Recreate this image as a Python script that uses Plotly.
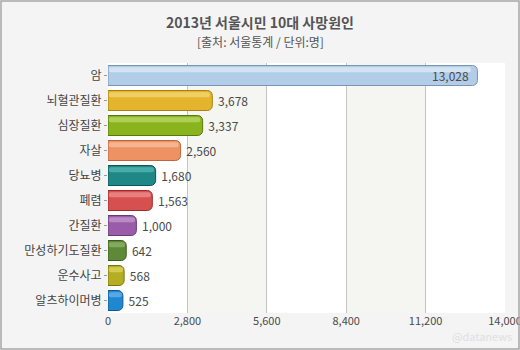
import plotly.graph_objects as go

categories = ["암", "뇌혈관질환", "심장질환", "자살", "당뇨병", "폐렴", "간질환", "만성하기도질환", "운수사고", "알츠하이머병"]
values = [13028, 3678, 3337, 2560, 1680, 1563, 1000, 642, 568, 525]
tick_vals = [0, 2800, 5600, 8400, 11200, 14000]
tick_text = ["0", "2,800", "5,600", "8,400", "11,200", "14,000"]

fill_colors = ["#b2cde8", "#e4b42c", "#8ab41e", "#ee9264", "#1f8886", "#d65050", "#9a5ca8", "#5e8a38", "#b6ae22", "#2088cf"]
line_colors = ["#7896b4", "#a8820e", "#587810", "#bc6640", "#0a5856", "#a02a2a", "#683a78", "#3a5a1e", "#7a7410", "#10589a"]
hi_colors = ["#dde9f6", "#f4d878", "#b8d868", "#f8c0a0", "#5ab8b6", "#ee9090", "#c49ad0", "#90b468", "#dcd660", "#68b4ec"]

FONT = "Noto Sans CJK KR, sans-serif"
INSIDE_LIMIT = 10000
outside_text = [f" {v:,}" if v < INSIDE_LIMIT else "" for v in values]

fig = go.Figure()
fig.add_trace(go.Bar(
    y=categories, x=values, orientation="h",
    marker=dict(color=fill_colors, line=dict(color=line_colors, width=1), cornerradius=5),
    width=0.8,
    text=outside_text, textposition="outside",
    textfont=dict(family=FONT, size=12, color="#4a4a4a"),
    cliponaxis=False,
    hoverinfo="skip",
))
# glossy highlight strip
fig.add_trace(go.Bar(
    y=categories, x=[v * 0.985 - 60 for v in values], orientation="h",
    marker=dict(color=hi_colors, line=dict(width=0), cornerradius=3, opacity=0.75),
    width=0.2, offset=-0.33, base=30,
    hoverinfo="skip",
))

shapes = []
for i in range(len(tick_vals) - 1):
    if i % 2 == 1:
        shapes.append(dict(type="rect", xref="x", yref="paper",
                           x0=tick_vals[i], x1=tick_vals[i + 1], y0=0, y1=1,
                           fillcolor="#f5f5f2", line=dict(width=0), layer="below"))
L, R, T, B = 108, 15, 63, 37
W, H = 520, 350
pw, ph = W - L - R, H - T - B
shapes.append(dict(type="rect", xref="paper", yref="paper",
                   x0=(-L + 1) / pw, x1=1 + (R - 1) / pw,
                   y0=(-B + 1) / ph, y1=1 + (T - 1) / ph,
                   line=dict(color="#a6a6a6", width=1.5), fillcolor="rgba(0,0,0,0)", layer="above"))

annotations = [
    dict(text="<b>2013년 서울시민 10대 사망원인</b>", xref="paper", yref="paper",
         x=(W / 2 - L) / pw, y=1 + (T - 22) / ph, showarrow=False,
         font=dict(family=FONT, size=14, color="#555555"), xanchor="center", yanchor="middle"),
    dict(text="[출처: 서울통계 / 단위:명]", xref="paper", yref="paper",
         x=(W / 2 - L) / pw, y=1 + (T - 42) / ph, showarrow=False,
         font=dict(family=FONT, size=12, color="#555555"), xanchor="center", yanchor="middle"),
    dict(text="@datanews", xref="paper", yref="paper",
         x=1 + (R - 6) / pw, y=-(346 - (H - B)) / ph, showarrow=False,
         font=dict(family=FONT, size=11, color="#e0e0e0"), xanchor="right", yanchor="bottom"),
]
# labels drawn inside the long bars
for c, v in zip(categories, values):
    if v >= INSIDE_LIMIT:
        annotations.append(dict(text=f"{v:,}", x=v, y=c, xref="x", yref="y",
                                showarrow=False, xanchor="right", xshift=-6,
                                font=dict(family=FONT, size=12, color="#4a4a4a")))

fig.update_layout(
    width=W, height=H,
    margin=dict(l=L, r=R, t=T, b=B),
    paper_bgcolor="#f4f4f4", plot_bgcolor="#ffffff",
    barmode="overlay", showlegend=False,
    shapes=shapes,
    font=dict(family=FONT, color="#444444"),
    xaxis=dict(range=[0, 14000], tickvals=tick_vals, ticktext=tick_text,
               showgrid=True, gridcolor="#c4c4c4", gridwidth=1, zeroline=False,
               showline=False, ticks="", ticklen=0, ticklabeloverflow="allow",
               automargin=False,
               tickfont=dict(family=FONT, size=11, color="#4a4a4a")),
    yaxis=dict(autorange="reversed", ticks="outside", ticklen=3, tickcolor="#999999",
               showgrid=False, showline=False, zeroline=False, automargin=False,
               tickfont=dict(family=FONT, size=12, color="#444444")),
    annotations=annotations,
)

fig.write_html("out.html")
